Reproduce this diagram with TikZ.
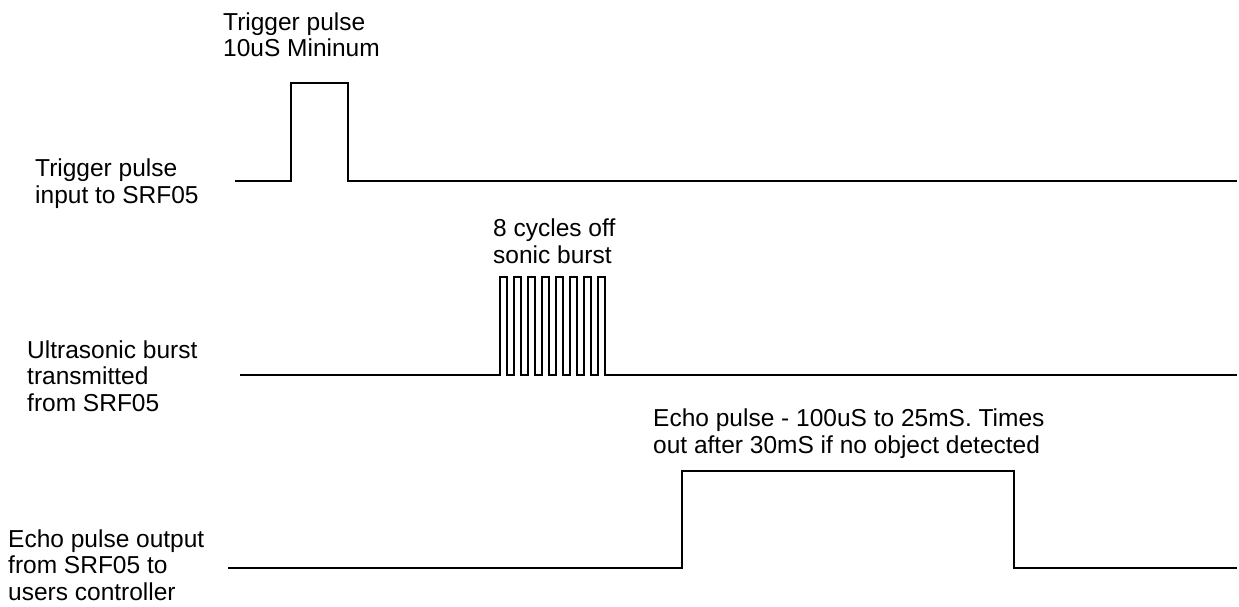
\documentclass[tikz,border=0pt]{standalone}
\usepackage{fontspec}
\setmainfont{Liberation Sans}
\begin{document}
\begin{tikzpicture}[x=1pt,y=-1pt,
  wave/.style={line width=1.5pt, line join=miter, black},
  lbl/.style={anchor=base west, inner sep=0pt, align=left, font=\fontsize{24.5}{26.3}\selectfont}]
\useasboundingbox (0,0) rectangle (1239,607);
% labels (anchor at the baseline of the last line)
\node[lbl] (ltrig) at (35,203) {Trigger pulse\\input to SRF05};
\node[lbl] (lburst) at (27,411) {Ultrasonic burst\\transmitted\\from SRF05};
\node[lbl] (lecho) at (8,600) {Echo pulse output\\from SRF05 to\\users controller};
\node[lbl] (ttrig) at (223,57) {Trigger pulse\\10uS Mininum};
\node[lbl] (tburst) at (493,263) {8 cycles off\\sonic burst};
\node[lbl] (techo) at (653,453) {Echo pulse - 100uS to 25mS. Times\\out after 30mS if no object detected};
% trigger waveform
\draw[wave] (235,181) -- (291,181) -- (291,83) -- (348,83) -- (348,181) -- (1237,181);
% ultrasonic burst
\draw[wave] (240,375) \foreach \i in {0,...,7} { -- ({500+14*\i},375) -- ({500+14*\i},277) -- ({507+14*\i},277) -- ({507+14*\i},375) } -- (1237,375);
% echo pulse
\draw[wave] (228,568) -- (682,568) -- (682,471) -- (1014,471) -- (1014,568) -- (1237,568);
\end{tikzpicture}
\end{document}
